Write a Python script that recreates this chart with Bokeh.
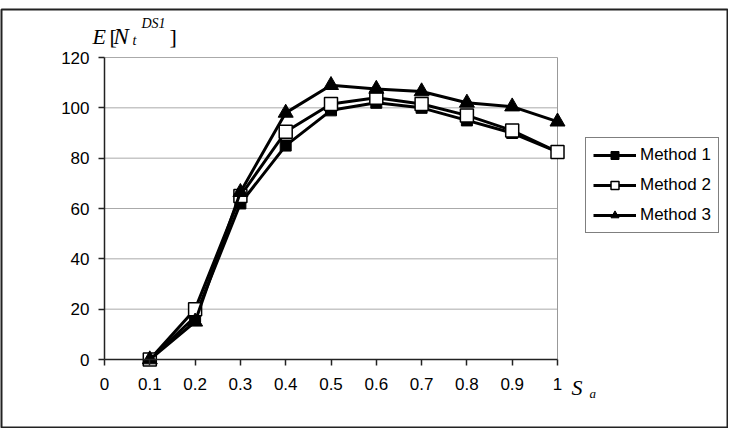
from bokeh.plotting import figure
from bokeh.models import Legend, LegendItem, Label, FixedTicker
from bokeh.embed import file_html
from bokeh.resources import INLINE

# Data
sa = [0.1, 0.2, 0.3, 0.4, 0.5, 0.6, 0.7, 0.8, 0.9, 1.0]
method1 = [0, 17, 62, 85, 99, 102, 100, 95, 90, 82.5]
method2 = [0, 20, 65, 90.5, 101.5, 104, 101.5, 97, 91, 82.5]
method3 = [0, 15, 66.5, 98, 109, 107.5, 106.5, 102, 100.5, 94.5]
x_ticks = [0, 0.1, 0.2, 0.3, 0.4, 0.5, 0.6, 0.7, 0.8, 0.9, 1.0]
x_tick_labels = ["0", "0.1", "0.2", "0.3", "0.4", "0.5", "0.6", "0.7", "0.8", "0.9", "1"]
y_ticks = [0, 20, 40, 60, 80, 100, 120]
series_names = ["Method 1", "Method 2", "Method 3"]

SANS = "Liberation Sans"
SERIF = "Liberation Serif"

# page layout (pixels)
W, H = 728, 428
FL, FT, FR, FB = 1, 9, 727, 427          # outer frame (chart border)
PX0, PX1 = 104, 557                      # x = 0 .. 1
PY0, PY1 = 359, 57                       # y = 0 .. 120
XMIN, XMAX = x_ticks[0], x_ticks[-1]
YMIN, YMAX = y_ticks[0], y_ticks[-1]
sx = (PX1 - PX0) / (XMAX - XMIN)
sy = (PY0 - PY1) / (YMAX - YMIN)
x_range = (XMIN - (PX0 - FL) / sx, XMAX + (FR - PX1) / sx)
y_range = (YMIN - (FB - PY0) / sy, YMAX + (PY1 - FT) / sy)

p = figure(width=W, height=H, output_backend="svg", toolbar_location=None,
           x_range=x_range, y_range=y_range,
           min_border_left=FL, min_border_right=W - FR,
           min_border_top=FT, min_border_bottom=H - FB)

p.background_fill_color = "white"
p.border_fill_color = "white"
p.outline_line_color = "#222222"
p.outline_line_width = 2

p.xgrid.visible = False
p.ygrid.visible = False

# horizontal grid lines and right plot-area edge
p.segment(x0=[XMIN] * len(y_ticks[1:]), x1=[XMAX] * len(y_ticks[1:]),
          y0=y_ticks[1:], y1=y_ticks[1:], line_color="#aaaaaa", line_width=1)
p.segment(x0=[XMAX], x1=[XMAX], y0=[YMIN], y1=[YMAX], line_color="#999999", line_width=1)

p.xaxis.ticker = FixedTicker(ticks=x_ticks)
p.xaxis.major_label_overrides = {t: l for t, l in zip(x_ticks, x_tick_labels)}
p.yaxis.ticker = FixedTicker(ticks=y_ticks)
p.xaxis.fixed_location = YMIN
p.yaxis.fixed_location = XMIN
p.xaxis.bounds = (XMIN, XMAX)
p.yaxis.bounds = (YMIN, YMAX)
for ax in (p.xaxis, p.yaxis):
    ax.axis_line_color = "#222222"
    ax.axis_line_width = 1.5
    ax.major_tick_line_color = "#222222"
    ax.major_tick_line_width = 1.5
    ax.major_tick_out = 6
    ax.major_tick_in = 0
    ax.minor_tick_line_color = None
    ax.major_label_text_font = SANS
    ax.major_label_text_font_size = "17px"
    ax.major_label_text_color = "black"
p.xaxis.major_label_standoff = 12
p.yaxis.major_label_standoff = 9

lw = 3
r1 = p.line(sa, method1, line_color="black", line_width=lw)
s1 = p.scatter(sa, method1, marker="square", size=11, fill_color="black", line_color="black")
r2 = p.line(sa, method2, line_color="black", line_width=lw)
s2 = p.scatter(sa, method2, marker="square", size=13, fill_color="white", line_color="black", line_width=1.5)
r3 = p.line(sa, method3, line_color="black", line_width=lw)
s3 = p.scatter(sa, method3, marker="triangle", size=15, fill_color="black", line_color="black")

legend = Legend(items=[LegendItem(label=series_names[0], renderers=[r1, s1]),
                       LegendItem(label=series_names[1], renderers=[r2, s2]),
                       LegendItem(label=series_names[2], renderers=[r3, s3])],
                location=(585 - FL, FB - 233))
legend.border_line_color = "black"
legend.border_line_width = 1
legend.background_fill_color = "white"
legend.background_fill_alpha = 1
legend.label_text_font = SANS
legend.label_text_font_size = "17px"
legend.label_text_color = "black"
legend.glyph_width = 43
legend.glyph_height = 20
legend.label_height = 20
legend.spacing = 10
legend.padding = 7
legend.margin = 0
legend.label_standoff = 4
p.add_layout(legend, "center")

# labels placed at page pixel positions converted to data coordinates
DY = 7  # renderer draws alphabetic baseline slightly low
def lab(text, cx, cy, size, style="italic"):
    p.add_layout(Label(x=XMIN + (cx - PX0) / sx, y=YMIN + (PY0 - (cy - DY)) / sy,
                       text=text, text_font=SERIF, text_font_style=style,
                       text_font_size=size, text_color="black",
                       text_align="left", text_baseline="alphabetic"))

# y-axis title E[N_t^DS1]
lab("E", 92, 43, "22px")
lab("[", 109, 43, "22px", style="normal")
lab("N", 113, 43, "23px")
lab("t", 132, 47, "14px")
lab("DS1", 141, 30, "14px")
lab("]", 169, 43, "22px", style="normal")

# x-axis title S_a
lab("S", 571, 394, "22px")
lab("a", 589, 400, "13px")

html = file_html(p, INLINE)
open("out.html", "w").write(html)
